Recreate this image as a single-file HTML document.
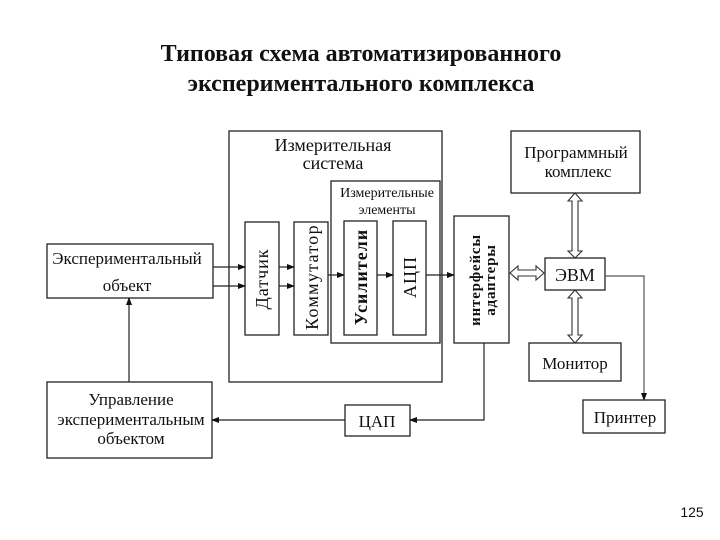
<!DOCTYPE html>
<html><head><meta charset="utf-8"><style>
html,body{margin:0;padding:0;background:#fff}
svg{display:block}
text{font-family:"Liberation Serif",serif;fill:#111}
</style></head><body>
<svg width="720" height="540" viewBox="0 0 720 540" xmlns="http://www.w3.org/2000/svg">
<defs>
<marker id="a" markerWidth="8" markerHeight="8" refX="7" refY="4" orient="auto" markerUnits="userSpaceOnUse">
<path d="M0,1 L8,4 L0,7 Z" fill="#111"/></marker>
</defs>
<text x="361" y="61" font-size="24" font-weight="bold" text-anchor="middle">Типовая схема автоматизированного</text>
<text x="361" y="91" font-size="24" font-weight="bold" text-anchor="middle">экспериментального комплекса</text>

<g fill="none" stroke="#222" stroke-width="1.3">
<rect x="229" y="131" width="213" height="251"/>
<rect x="331" y="181" width="109" height="162"/>
<rect x="245" y="222" width="34" height="113"/>
<rect x="294" y="222" width="34" height="113"/>
<rect x="344" y="221" width="33" height="114"/>
<rect x="393" y="221" width="33" height="114"/>
<rect x="454" y="216" width="55" height="127"/>
<rect x="511" y="131" width="129" height="62"/>
<rect x="545" y="258" width="60" height="32"/>
<rect x="529" y="343" width="92" height="38"/>
<rect x="583" y="400" width="82" height="33"/>
<rect x="47" y="244" width="166" height="54"/>
<rect x="47" y="382" width="165" height="76"/>
<rect x="345" y="405" width="65" height="31"/>
</g>

<g stroke="#222" stroke-width="1.2" fill="none">
<line x1="213" y1="267" x2="245" y2="267" marker-end="url(#a)"/>
<line x1="213" y1="286" x2="245" y2="286" marker-end="url(#a)"/>
<line x1="279" y1="267" x2="294" y2="267" marker-end="url(#a)"/>
<line x1="279" y1="286" x2="294" y2="286" marker-end="url(#a)"/>
<line x1="328" y1="275" x2="344" y2="275" marker-end="url(#a)"/>
<line x1="377" y1="275" x2="393" y2="275" marker-end="url(#a)"/>
<line x1="426" y1="275" x2="454" y2="275" marker-end="url(#a)"/>
<polyline points="605,276 644,276 644,400" marker-end="url(#a)" stroke="#555"/>
<polyline points="484,343 484,420 410,420" marker-end="url(#a)"/>
<line x1="345" y1="420" x2="212" y2="420" marker-end="url(#a)"/>
<line x1="129" y1="382" x2="129" y2="298" marker-end="url(#a)"/>
</g>

<g fill="#fff" stroke="#333" stroke-width="1.1">
<polygon points="510,273 518,266 518,270 536,270 536,266 544,273 536,280 536,276 518,276 518,280"/>
<polygon points="575,193 582,201 578,201 578,251 582,251 575,258 568,251 572,251 572,201 568,201"/>
<polygon points="575,290 582,298 578,298 578,335 582,335 575,343 568,335 572,335 572,298 568,298"/>
</g>

<g font-size="17">
<text x="333" y="151" text-anchor="middle" font-size="18">Измерительная</text>
<text x="333" y="169" text-anchor="middle" font-size="18">система</text>
<text x="387" y="197" text-anchor="middle" font-size="14">Измерительные</text>
<text x="387" y="214" text-anchor="middle" font-size="14">элементы</text>
<text x="576" y="158" text-anchor="middle">Программный</text>
<text x="578" y="177" text-anchor="middle">комплекс</text>
<text x="575" y="281" text-anchor="middle" font-size="18">ЭВМ</text>
<text x="575" y="369" text-anchor="middle">Монитор</text>
<text x="625" y="423" text-anchor="middle">Принтер</text>
<text x="127" y="264" text-anchor="middle">Экспериментальный</text>
<text x="127" y="291" text-anchor="middle">объект</text>
<text x="131" y="405" text-anchor="middle">Управление</text>
<text x="131" y="425" text-anchor="middle">экспериментальным</text>
<text x="131" y="444" text-anchor="middle">объектом</text>
<text x="377" y="427" text-anchor="middle">ЦАП</text>
<text transform="translate(268,279) rotate(-90)" text-anchor="middle" font-size="18" letter-spacing="1">Датчик</text>
<text transform="translate(318,277) rotate(-90)" text-anchor="middle" font-size="18" letter-spacing="1.3">Коммутатор</text>
<text transform="translate(367,277) rotate(-90)" text-anchor="middle" font-size="18" font-weight="bold" letter-spacing="1">Усилители</text>
<text transform="translate(416,277) rotate(-90)" text-anchor="middle" font-size="18" letter-spacing="1">АЦП</text>
<text transform="translate(480,280) rotate(-90)" text-anchor="middle" font-size="15" font-weight="bold" letter-spacing="0.8">интерфейсы</text>
<text transform="translate(495,280) rotate(-90)" text-anchor="middle" font-size="15" font-weight="bold" letter-spacing="0.8">адаптеры</text>
</g>
<text x="692" y="517" font-size="14" text-anchor="middle" style="font-family:'Liberation Sans',sans-serif">125</text>
</svg>
</body></html>
